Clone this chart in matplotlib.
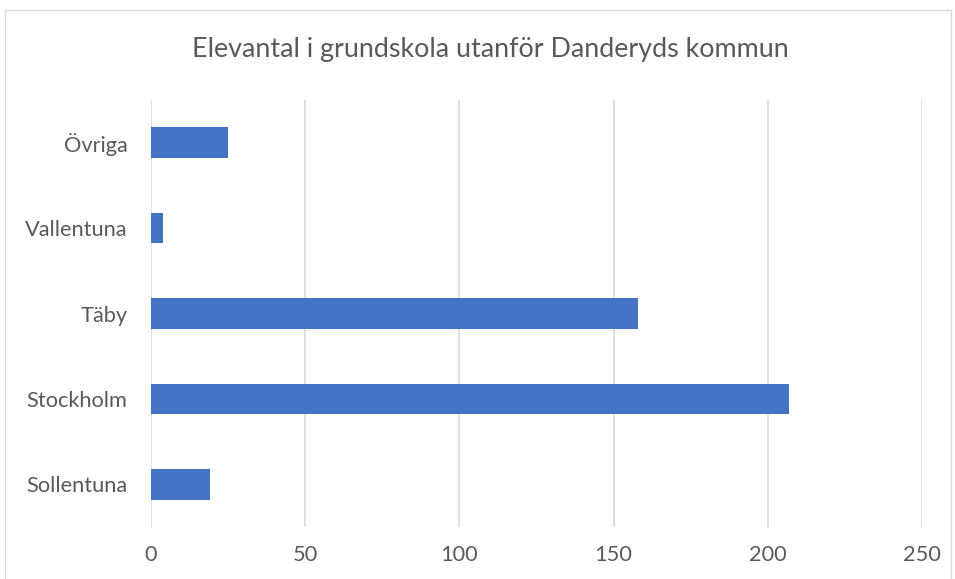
import matplotlib.pyplot as plt
from matplotlib.patches import Rectangle

categories = ['Sollentuna', 'Stockholm', 'Täby', 'Vallentuna', 'Övriga']
values = [19, 207, 158, 4, 25]
xticks = [0, 50, 100, 150, 200, 250]

plt.rcParams['font.family'] = ['Lato', 'DejaVu Sans']
txt = '#595959'

fig = plt.figure(figsize=(9.55, 5.79), dpi=100)
ax = fig.add_axes([151/955, 1 - 527/579, (922 - 151)/955, 427/579])

ax.barh(categories, values, height=0.36, color='#4472c4', zorder=3)
ax.set_xlim(0, 250)
ax.set_ylim(-0.5, 4.5)
ax.set_xticks(xticks)
ax.grid(axis='x', color='#d9d9d9', linewidth=1.2, zorder=0)
for s in ax.spines.values():
    s.set_visible(False)
ax.tick_params(length=0, labelsize=15.7, colors=txt)
ax.tick_params(axis='x', pad=13)
ax.tick_params(axis='y', pad=17)

fig.text(490/955, 1 - 50/579, 'Elevantal i grundskola utanför Danderyds kommun',
         ha='center', va='center', fontsize=19.4, color=txt)

fig.patches.append(Rectangle((5/955, -0.01), 946/955, 1 - 10/579 + 0.01,
                             transform=fig.transFigure, fill=False,
                             edgecolor='#d9d9d9', linewidth=1))

fig.savefig('out.png', dpi=100)
